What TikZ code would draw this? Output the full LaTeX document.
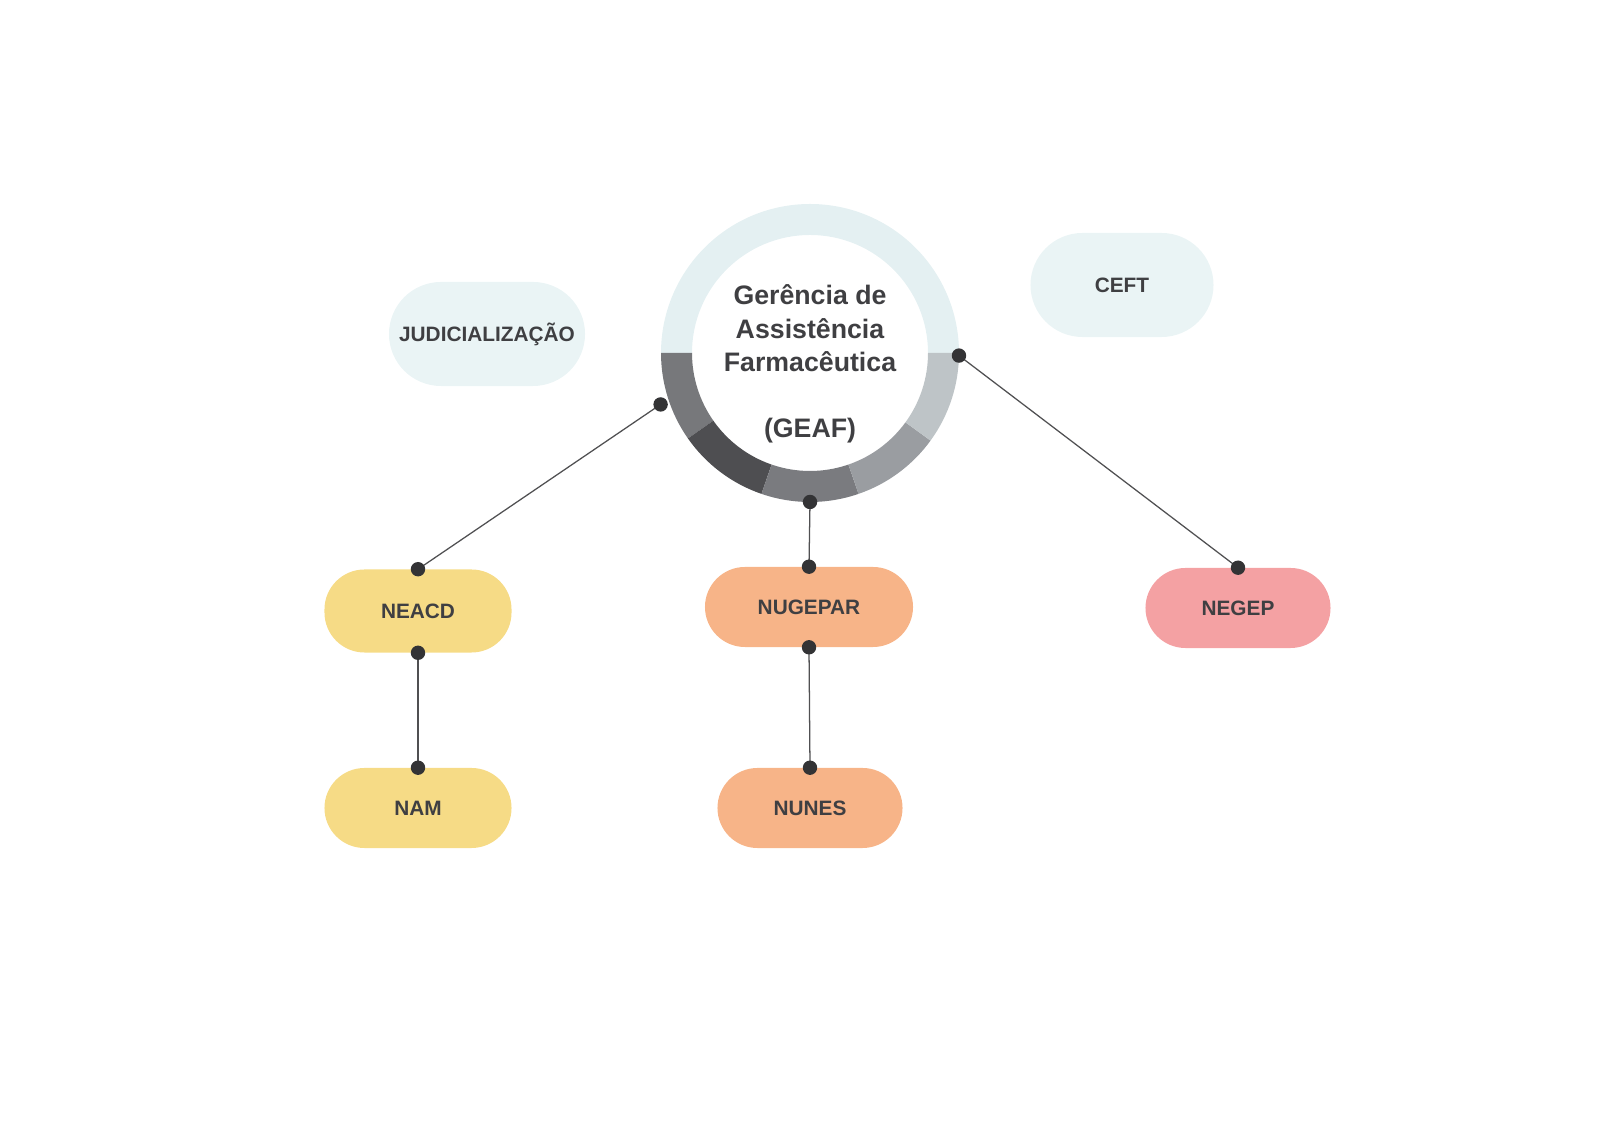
\documentclass[tikz,border=0pt]{standalone}
\usepackage{fontspec}
\setmainfont{Liberation Sans}
\usetikzlibrary{calc}
\definecolor{ink}{HTML}{3F3F42}
\definecolor{wire}{HTML}{505052}
\definecolor{knob}{HTML}{333335}
\definecolor{pale}{HTML}{EAF4F5}
\definecolor{ringtop}{HTML}{E4F0F2}
\definecolor{sand}{HTML}{F6DB86}
\definecolor{peach}{HTML}{F7B488}
\definecolor{rose}{HTML}{F4A1A3}
\definecolor{gA}{HTML}{77787B}
\definecolor{gB}{HTML}{4E4E51}
\definecolor{gC}{HTML}{7A7B7F}
\definecolor{gD}{HTML}{9A9DA1}
\definecolor{gE}{HTML}{BEC4C7}
\tikzset{
  pill/.style={rounded corners=1cm, minimum width=4.675cm, minimum height=2.0cm, inner sep=0pt, text=ink, font=\fontsize{14.8}{17}\selectfont\bfseries},
  softpill/.style={pill, fill=pale, minimum height=2.6cm, rounded corners=1.3cm},
  link/.style={draw=wire, line width=0.9pt},
  dot/.style={circle, fill=knob, inner sep=0pt, minimum size=0.36cm},
  title/.style={align=center, text=ink, font=\fontsize{19}{23.8}\selectfont\bfseries}
}

\begin{document}
\begin{tikzpicture}[x=0.025cm, y=0.025cm]
  \useasboundingbox (0,0) rectangle (1600,1131);

  % ring
  \coordinate (hub) at (810,778);
  \foreach \a/\b/\c in {0/180/ringtop, 180/215/gA, 215/251/gB, 251/289/gC, 289/324/gD, 324/360/gE}
    \fill[\c] ($(hub)+(\a:149)$) arc[start angle=\a, end angle=\b, radius=149]
      -- ($(hub)+(\b:118)$) arc[start angle=\b, end angle=\a, radius=118] -- cycle;
  \node[title] (geaf) at (810,767) {Gerência de\\Assistência\\Farmacêutica\\[23pt](GEAF)};

  \coordinate (dl) at ($(hub)+(199:158)$);
  \coordinate (dr) at ($(hub)+(-1:149)$);
  \coordinate (db) at ($(hub)+(270:149)$);

  % boxes
  \node[softpill, minimum width=4.9cm] (jud) at (487,797) {JUDICIALIZAÇÃO};
  \node[softpill, minimum width=4.575cm] (ceft) at (1122,846) {CEFT};
  \node[pill, fill=sand, minimum height=2.075cm] (neacd) at (418,520) {NEACD};
  \node[pill, fill=sand] (nam) at (418,323) {NAM};
  \node[pill, fill=peach, minimum width=5.2cm] (nugepar) at (809,524) {NUGEPAR};
  \node[pill, fill=peach, minimum width=4.625cm] (nunes) at (810,323) {NUNES};
  \node[pill, fill=rose, minimum width=4.625cm] (negep) at (1238,523) {NEGEP};

  % links
  \draw[link] (dl) -- (neacd.north);
  \draw[link] (db) -- (nugepar.north);
  \draw[link] (dr) -- (negep.north);
  \draw[link] (neacd.south) -- (nam.north);
  \draw[link] (nugepar.south) -- (nunes.north);

  \foreach \p in {dl, db, dr, neacd.north, neacd.south, nam.north, nugepar.north, nugepar.south, nunes.north, negep.north}
    \node[dot] at (\p) {};
\end{tikzpicture}
\end{document}
